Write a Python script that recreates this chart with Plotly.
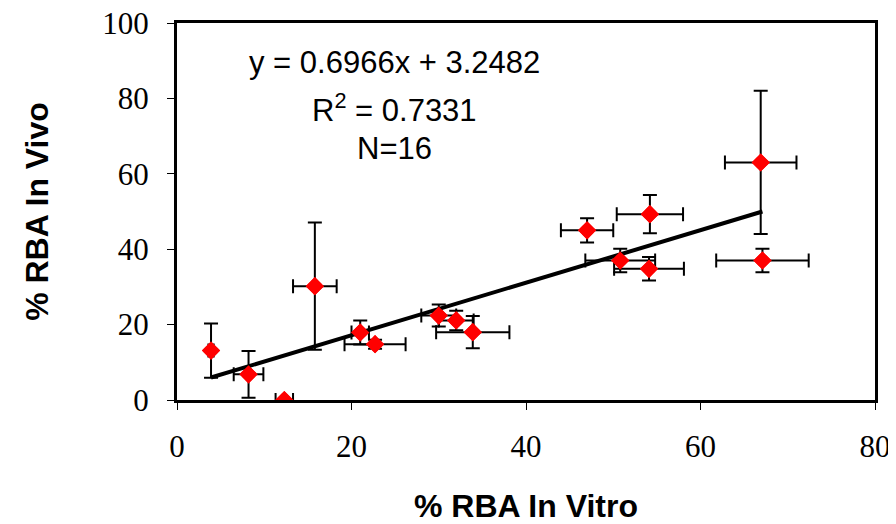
import plotly.graph_objects as go

# Data
x_vitro = [3.9, 8.2, 12.3, 15.8, 21.0, 22.7, 30.0, 32.0, 33.9, 47.0, 54.2, 50.8, 54.1, 67.1, 66.9]
y_vivo = [13.1, 6.8, 0.0, 30.2, 17.9, 14.8, 22.4, 21.1, 18.0, 45.0, 49.3, 37.0, 34.8, 37.0, 63.0]
x_err = [0.3, 1.7, 1.0, 2.5, 1.0, 3.5, 2.0, 2.0, 4.2, 3.0, 3.8, 4.0, 4.0, 5.3, 4.1]
y_err = [7.2, 6.2, 0.0, 16.9, 3.2, 1.2, 2.9, 2.6, 4.3, 3.2, 5.1, 3.1, 3.1, 3.1, 19.0]

slope = 0.6966
intercept = 3.2482
r_squared = "0.7331"
n_label = "N=16"

x_ticks = [0, 20, 40, 60, 80]
y_ticks = [0, 20, 40, 60, 80, 100]

x_fit = [min(x_vitro), max(x_vitro)]
y_fit = [slope * v + intercept for v in x_fit]

fig = go.Figure()

fig.add_trace(go.Scatter(
    x=x_vitro, y=y_vivo, mode="markers",
    marker=dict(symbol="diamond", size=14, color="#ff0000", line=dict(width=0)),
    error_x=dict(type="data", array=x_err, visible=True, color="black", thickness=2, width=7),
    error_y=dict(type="data", array=y_err, visible=True, color="black", thickness=2, width=7),
    showlegend=False, hoverinfo="x+y",
))

fig.add_trace(go.Scatter(
    x=x_fit, y=y_fit, mode="lines",
    line=dict(color="black", width=4),
    showlegend=False, hoverinfo="skip",
))

# Redraw markers on top of the trend line
fig.add_trace(go.Scatter(
    x=x_vitro, y=y_vivo, mode="markers",
    marker=dict(symbol="diamond", size=14, color="#ff0000", line=dict(width=0)),
    showlegend=False, hoverinfo="skip",
))

ann_font = dict(family="Liberation Sans, Arial", size=31, color="black")
fig.add_annotation(x=24.9, y=89.4, xref="x", yref="y", showarrow=False,
                   text=f"y = {slope}x + {intercept}", font=ann_font)
fig.add_annotation(x=24.9, y=77.5, xref="x", yref="y", showarrow=False,
                   text=f"R<sup>2</sup> = {r_squared}", font=ann_font)
fig.add_annotation(x=24.9, y=66.8, xref="x", yref="y", showarrow=False,
                   text=n_label, font=ann_font)

tick_font = dict(family="Liberation Serif, Times New Roman", size=31, color="black")
title_font = dict(family="Liberation Sans, Arial", size=32, color="black")

fig.update_xaxes(
    range=[0, 80], tickvals=x_ticks, ticktext=[str(v) for v in x_ticks],
    showline=True, linecolor="black", linewidth=3, mirror=True,
    ticks="outside", ticklen=7, tickwidth=1, tickcolor="black",
    showgrid=False, zeroline=False, tickfont=tick_font,
    ticklabelstandoff=10, automargin=False, ticklabeloverflow="allow",
    title=dict(text="<b>% RBA In Vitro</b>", font=title_font, standoff=33),
)
fig.update_yaxes(
    range=[0, 100], tickvals=y_ticks, ticktext=[str(v) for v in y_ticks],
    showline=True, linecolor="black", linewidth=3, mirror=True,
    ticks="outside", ticklen=7, tickwidth=1, tickcolor="black",
    showgrid=False, zeroline=False, tickfont=tick_font,
    ticklabelstandoff=12, automargin=False, ticklabeloverflow="allow",
    title=dict(text="<b>% RBA In Vivo</b>", font=title_font, standoff=45),
)

# The page adds an 8px body margin, so the figure is sized to fit inside it
fig.update_layout(
    width=888, height=516,
    margin=dict(l=169, r=21, t=15, b=124),
    paper_bgcolor="white", plot_bgcolor="white",
)

fig.write_html("out.html")
